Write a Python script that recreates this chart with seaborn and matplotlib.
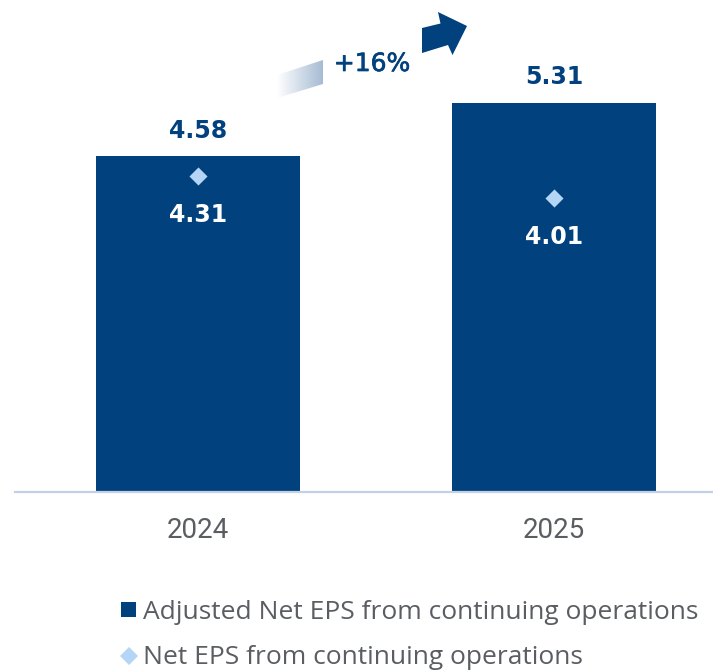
import matplotlib
matplotlib.use("Agg")
import matplotlib.pyplot as plt
import matplotlib.patheffects as pe
from matplotlib.patches import Polygon, Rectangle
from matplotlib.lines import Line2D
import numpy as np
import pandas as pd
import seaborn as sns

# Data
years = ["2024", "2025"]
adjusted_eps = [4.58, 5.31]
net_eps = [4.31, 4.01]
growth_label = "+16%"
legend_labels = ["Adjusted Net EPS from continuing operations",
                 "Net EPS from continuing operations"]

NAVY = "#00417e"
LIGHT = "#b5d5f6"
GREY = "#5a5d62"
AXIS = "#c5cfe6"

W, H = 713, 671
sns.set_theme(style="white")
plt.rcParams["font.family"] = ["DejaVu Sans"]

fig = plt.figure(figsize=(W / 100, H / 100), dpi=100)
ax = fig.add_axes([15 / W, 179 / H, 698 / W, 492 / H])

df = pd.DataFrame({"year": years, "adjusted": adjusted_eps, "net": net_eps})
sns.barplot(data=df, x="year", y="adjusted", color=NAVY, saturation=1,
            width=0.572, ax=ax, linewidth=0)
sns.scatterplot(data=df, x="year", y="net", marker="D", s=85, color=LIGHT,
                linewidth=0, ax=ax, zorder=5)

ax.set_xlim(-0.513, 1.445)
ax.set_ylim(0, 6.71)
ax.set_xlabel("")
ax.set_ylabel("")
ax.set_yticks([])
for side in ["left", "right", "top"]:
    ax.spines[side].set_visible(False)
ax.spines["bottom"].set_color(AXIS)
ax.spines["bottom"].set_linewidth(1.6)
ax.tick_params(axis="x", length=0, pad=18, labelsize=20, labelcolor=GREY)
for lbl in ax.get_xticklabels():
    lbl.set_fontfamily("Roboto")
    lbl.set_fontweight("normal")

# Value labels
for i, (a, n) in enumerate(zip(adjusted_eps, net_eps)):
    ax.text(i, a + 0.25, f"{a:.2f}", ha="center", va="baseline",
            fontsize=17, fontweight="bold", color=NAVY)
    ax.text(i, n - 0.63, f"{n:.2f}", ha="center", va="baseline",
            fontsize=17, fontweight="bold", color="white")

# Overlay in pixel coordinates for the growth arrow and legend
ov = fig.add_axes([0, 0, 1, 1], facecolor="none")
ov.set_xlim(0, W)
ov.set_ylim(H, 0)
ov.axis("off")

# Fading tail of the growth arrow
tail = Polygon([(277, 75), (323, 60), (323, 84), (277, 98)], closed=True,
               facecolor="none", edgecolor="none")
ov.add_patch(tail)
grad = np.linspace(0, 1, 256).reshape(1, -1)
cmap = matplotlib.colors.LinearSegmentedColormap.from_list(
    "fade", ["#ffffff", "#a6bbd3"])
img = ov.imshow(grad, extent=(277, 323, 98, 60), cmap=cmap, aspect="auto",
                interpolation="bilinear", zorder=2)
img.set_clip_path(tail)

# Arrow head
arrow = Polygon([(422, 53), (422, 28), (440.5, 23.5), (438, 12), (467, 26),
                 (452.5, 55), (448, 45)], closed=True, facecolor=NAVY,
                edgecolor="none", zorder=3)
ov.add_patch(arrow)
ov.text(372, 71, growth_label, ha="center", va="baseline", fontsize=18,
        color=NAVY,
        path_effects=[pe.withStroke(linewidth=0.5, foreground=NAVY)])

# Legend
ov.add_patch(Rectangle((121, 602), 15, 15, facecolor=NAVY, edgecolor="none"))
ov.add_line(Line2D([128.5], [656], marker="D", markersize=9.5,
                   color=LIGHT, markeredgewidth=0, linestyle="none"))
ov.text(143, 619, legend_labels[0], ha="left", va="baseline", fontsize=19,
        color=GREY, fontfamily="Open Sans")
ov.text(143, 664, legend_labels[1], ha="left", va="baseline", fontsize=19,
        color=GREY, fontfamily="Open Sans")

fig.savefig("out.png", dpi=100)
